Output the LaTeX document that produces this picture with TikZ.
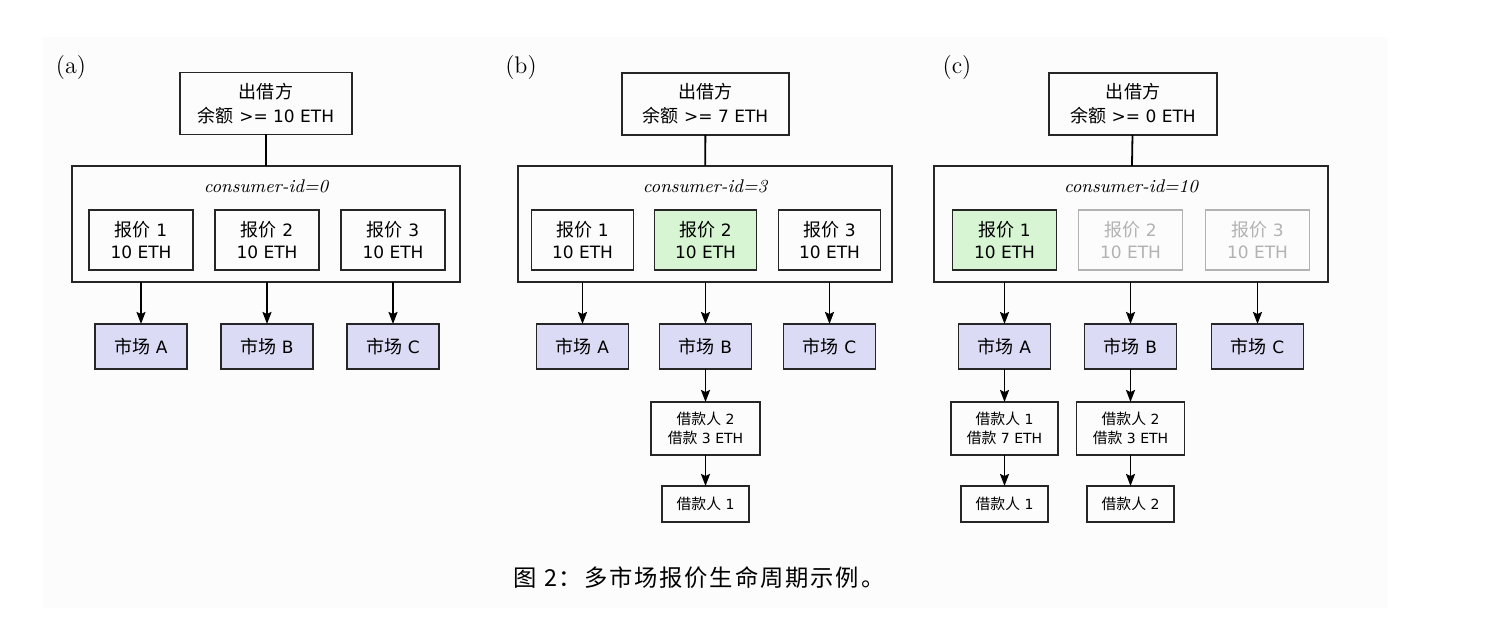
\documentclass[tikz,border=0pt]{standalone}
\usepackage{fontspec}
\newfontfamily\boxfont{DejaVu Sans}
\newfontfamily\cjk{Noto Sans CJK SC}[Scale=1.06]
\newcommand{\zh}[1]{{\cjk #1}}
\usetikzlibrary{positioning}
\usetikzlibrary{arrows.meta}
\definecolor{quotegreen}{HTML}{D7F5D2}
\definecolor{marketblue}{HTML}{DBDBF5}
\definecolor{idlegray}{HTML}{B2B2B2}

\begin{document}
\begin{tikzpicture}[x=0.5pt,y=-0.5pt,every node/.style={outer sep=0pt},
		line width=0.9pt,
		box/.style={draw=black!85,line width=0.9pt,align=center,inner sep=0pt},
		lender/.style={box,minimum height=31pt,font=\boxfont\fontsize{8.5}{12}\selectfont},
		container/.style={draw=black!85,line width=0.9pt,minimum height=58pt},
		quote/.style={box,minimum width=52pt,minimum height=30pt,font=\boxfont\fontsize{8.5}{11}\selectfont},
		chosen/.style={quote,fill=quotegreen},
		idle/.style={quote,draw=idlegray,text=idlegray},
		market/.style={box,fill=marketblue,minimum width=46pt,minimum height=22.5pt,
		font=\boxfont\fontsize{8.5}{11}\selectfont},
		borrower/.style={box,minimum height=26.5pt,font=\boxfont\fontsize{7}{9.5}\selectfont},
		borrowerend/.style={box,minimum width=43.5pt,minimum height=18pt,font=\boxfont\fontsize{7}{9.5}\selectfont},
		arrow/.style={-{Stealth[length=6pt,width=4.5pt,inset=1pt]}},
		panel/.style={font=\fontsize{12}{14}\selectfont},
		tagtext/.style={font=\itshape\fontsize{9.2}{11}\selectfont},
		]
		\useasboundingbox (0,0) rectangle (1508,624);
		\fill[black!1] (43,37) rectangle (1388,608);

		% (a)
		\node[panel] (taga) at (71,68) {(a)};
		\node[lender,minimum width=86pt] (lena) at (266,103.5) {\zh{出借方}\\\zh{余额} >= 10 ETH};
		\node[container,minimum width=194pt] (cona) at (266,224) {};
		\node[tagtext] (ida) at (266,186) {consumer-id=0};
		\node[quote] (qa2) at (267,240) {\zh{报价} 2\\10 ETH};
		\node[quote,left=11pt of qa2] (qa1) {\zh{报价} 1\\10 ETH};
		\node[quote,right=11pt of qa2] (qa3) {\zh{报价} 3\\10 ETH};
		\node[market,below=27pt of qa1] (ma1) {\zh{市场} A};
		\node[market,below=27pt of qa2] (ma2) {\zh{市场} B};
		\node[market,below=27pt of qa3] (ma3) {\zh{市场} C};
		\draw (lena) -- (cona);
		\draw[arrow] (qa1 |- cona.south) -- (ma1);
		\draw[arrow] (qa2 |- cona.south) -- (ma2);
		\draw[arrow] (qa3 |- cona.south) -- (ma3);

		% (b)
		\node[panel] (tagb) at (521,68) {(b)};
		\node[lender,minimum width=83.5pt] (lenb) at (705.5,104) {\zh{出借方}\\\zh{余额} >= 7 ETH};
		\node[container,minimum width=187pt] (conb) at (705,224) {};
		\node[tagtext] (idb) at (705,186) {consumer-id=3};
		\node[chosen,minimum width=51pt] (qb2) at (705.5,240) {\zh{报价} 2\\10 ETH};
		\node[quote,minimum width=51pt,left=10.5pt of qb2] (qb1) {\zh{报价} 1\\10 ETH};
		\node[quote,minimum width=51pt,right=11pt of qb2] (qb3) {\zh{报价} 3\\10 ETH};
		\node[market,below=27pt of qb1] (mb1) {\zh{市场} A};
		\node[market,below=27pt of qb2] (mb2) {\zh{市场} B};
		\node[market,below=27pt of qb3] (mb3) {\zh{市场} C};
		\node[borrower,minimum width=54.5pt,below=16.5pt of mb2] (bb2) {\zh{借款人} 2\\\zh{借款} 3 ETH};
		\node[borrowerend,below=15.5pt of bb2] (bb1) {\zh{借款人} 1};
		\draw (lenb) -- (conb);
		\draw[arrow] (qb1 |- conb.south) -- (mb1);
		\draw[arrow] (qb2 |- conb.south) -- (mb2);
		\draw[arrow] (qb3 |- conb.south) -- (mb3);
		\draw[arrow] (mb2) -- (bb2);
		\draw[arrow] (bb2) -- (bb1);

		% (c)
		\node[panel] (tagc) at (957,68) {(c)};
		\node[lender,minimum width=84pt] (lenc) at (1133,104) {\zh{出借方}\\\zh{余额} >= 0 ETH};
		\node[container,minimum width=197pt] (conc) at (1131,224) {};
		\node[tagtext] (idc) at (1131,186) {consumer-id=10};
		\node[idle] (qc2) at (1130.5,240) {\zh{报价} 2\\10 ETH};
		\node[chosen,left=11pt of qc2] (qc1) {\zh{报价} 1\\10 ETH};
		\node[idle,right=11.5pt of qc2] (qc3) {\zh{报价} 3\\10 ETH};
		\node[market,below=27pt of qc1] (mc1) {\zh{市场} A};
		\node[market,below=27pt of qc2] (mc2) {\zh{市场} B};
		\node[market,below=27pt of qc3] (mc3) {\zh{市场} C};
		\node[borrower,minimum width=53.5pt,below=16.5pt of mc1] (bc1) {\zh{借款人} 1\\\zh{借款} 7 ETH};
		\node[borrower,minimum width=54pt,below=16.5pt of mc2] (bc2) {\zh{借款人} 2\\\zh{借款} 3 ETH};
		\node[borrowerend,below=15.5pt of bc1] (ec1) {\zh{借款人} 1};
		\node[borrowerend,below=15.5pt of bc2] (ec2) {\zh{借款人} 2};
		\draw (lenc) -- (conc);
		\draw[arrow] (qc1 |- conc.south) -- (mc1);
		\draw[arrow] (qc2 |- conc.south) -- (mc2);
		\draw[arrow] (qc3 |- conc.south) -- (mc3);
		\draw[arrow] (mc1) -- (bc1);
		\draw[arrow] (mc2) -- (bc2);
		\draw[arrow] (bc1) -- (ec1);
		\draw[arrow] (bc2) -- (ec2);

		\node[font=\cjk\fontsize{11}{13}\selectfont\addfontfeatures{LetterSpace=8}] (cap) at (699,578)
		{图 2：多市场报价生命周期示例。};
\end{tikzpicture}
\end{document}
